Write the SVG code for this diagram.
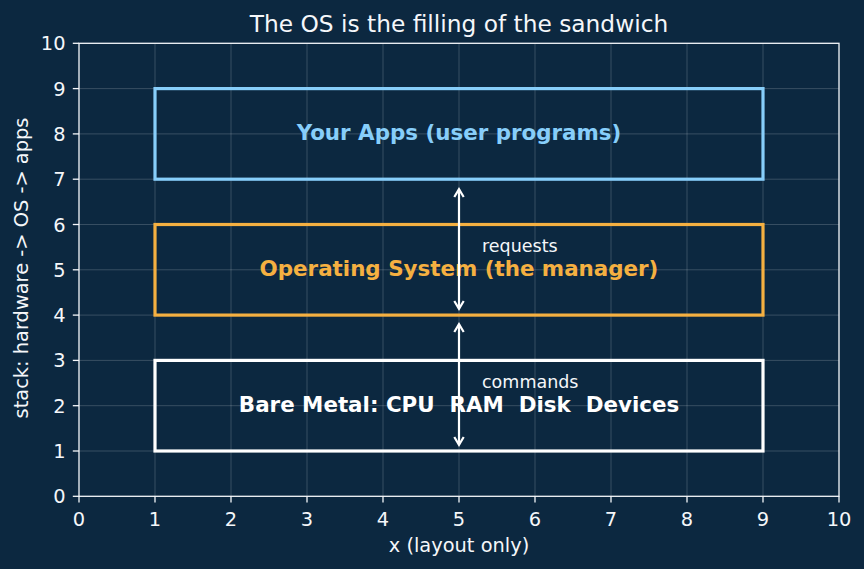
<svg xmlns="http://www.w3.org/2000/svg" width="864" height="569" viewBox="0 0 864 569">
  <defs>
    <style>
      text { font-family: "DejaVu Sans", "Liberation Sans", sans-serif; fill: #f5f7fa; }
      .tick { font-size: 19.4px; }
      .ytick { text-anchor: end; }
      .xtick { text-anchor: middle; }
      .grid line { stroke: #ffffff; stroke-opacity: 0.18; stroke-width: 1; }
      .tickmark line { stroke: #f5f7fa; stroke-width: 1.3; }
      .box { fill: none; stroke-width: 3.2; }
      .boxlabel { font-size: 21.4px; font-weight: bold; text-anchor: middle; white-space: pre; }
      .note { font-size: 17.5px; }
      .conn { stroke: #ffffff; stroke-width: 2.2; fill: none; }
      .head { stroke: #ffffff; stroke-width: 2.2; fill: none; stroke-linejoin: miter; }
    </style>
  </defs>
  <rect x="0" y="0" width="864" height="569" fill="#0c2840"/>

  <!-- grid -->
  <g class="grid">
    <line x1="155" y1="43.3" x2="155" y2="496.3"/>
    <line x1="231" y1="43.3" x2="231" y2="496.3"/>
    <line x1="307" y1="43.3" x2="307" y2="496.3"/>
    <line x1="383" y1="43.3" x2="383" y2="496.3"/>
    <line x1="459" y1="43.3" x2="459" y2="496.3"/>
    <line x1="535" y1="43.3" x2="535" y2="496.3"/>
    <line x1="611" y1="43.3" x2="611" y2="496.3"/>
    <line x1="687" y1="43.3" x2="687" y2="496.3"/>
    <line x1="763" y1="43.3" x2="763" y2="496.3"/>
    <line x1="79" y1="451" x2="839" y2="451"/>
    <line x1="79" y1="405.7" x2="839" y2="405.7"/>
    <line x1="79" y1="360.4" x2="839" y2="360.4"/>
    <line x1="79" y1="315.1" x2="839" y2="315.1"/>
    <line x1="79" y1="269.8" x2="839" y2="269.8"/>
    <line x1="79" y1="224.5" x2="839" y2="224.5"/>
    <line x1="79" y1="179.2" x2="839" y2="179.2"/>
    <line x1="79" y1="133.9" x2="839" y2="133.9"/>
    <line x1="79" y1="88.6" x2="839" y2="88.6"/>
  </g>

  <!-- axes frame -->
  <rect x="79" y="43.3" width="760" height="453" fill="none" stroke="#f5f7fa" stroke-width="1.3"/>

  <!-- tick marks -->
  <g class="tickmark">
    <line x1="79" y1="496.3" x2="79" y2="502.5"/>
    <line x1="155" y1="496.3" x2="155" y2="502.5"/>
    <line x1="231" y1="496.3" x2="231" y2="502.5"/>
    <line x1="307" y1="496.3" x2="307" y2="502.5"/>
    <line x1="383" y1="496.3" x2="383" y2="502.5"/>
    <line x1="459" y1="496.3" x2="459" y2="502.5"/>
    <line x1="535" y1="496.3" x2="535" y2="502.5"/>
    <line x1="611" y1="496.3" x2="611" y2="502.5"/>
    <line x1="687" y1="496.3" x2="687" y2="502.5"/>
    <line x1="763" y1="496.3" x2="763" y2="502.5"/>
    <line x1="839" y1="496.3" x2="839" y2="502.5"/>
    <line x1="72.8" y1="496.3" x2="79" y2="496.3"/>
    <line x1="72.8" y1="451" x2="79" y2="451"/>
    <line x1="72.8" y1="405.7" x2="79" y2="405.7"/>
    <line x1="72.8" y1="360.4" x2="79" y2="360.4"/>
    <line x1="72.8" y1="315.1" x2="79" y2="315.1"/>
    <line x1="72.8" y1="269.8" x2="79" y2="269.8"/>
    <line x1="72.8" y1="224.5" x2="79" y2="224.5"/>
    <line x1="72.8" y1="179.2" x2="79" y2="179.2"/>
    <line x1="72.8" y1="133.9" x2="79" y2="133.9"/>
    <line x1="72.8" y1="88.6" x2="79" y2="88.6"/>
    <line x1="72.8" y1="43.3" x2="79" y2="43.3"/>
  </g>

  <!-- tick labels -->
  <g class="tick xtick">
    <text x="79" y="526">0</text>
    <text x="155" y="526">1</text>
    <text x="231" y="526">2</text>
    <text x="307" y="526">3</text>
    <text x="383" y="526">4</text>
    <text x="459" y="526">5</text>
    <text x="535" y="526">6</text>
    <text x="611" y="526">7</text>
    <text x="687" y="526">8</text>
    <text x="763" y="526">9</text>
    <text x="839" y="526">10</text>
  </g>
  <g class="tick ytick">
    <text x="65.5" y="503.3">0</text>
    <text x="65.5" y="458">1</text>
    <text x="65.5" y="412.7">2</text>
    <text x="65.5" y="367.4">3</text>
    <text x="65.5" y="322.1">4</text>
    <text x="65.5" y="276.8">5</text>
    <text x="65.5" y="231.5">6</text>
    <text x="65.5" y="186.2">7</text>
    <text x="65.5" y="140.9">8</text>
    <text x="65.5" y="95.6">9</text>
    <text x="65.5" y="50.3">10</text>
  </g>

  <!-- axis labels and title -->
  <text x="459" y="552" font-size="19.4" text-anchor="middle">x (layout only)</text>
  <text transform="translate(28,268) rotate(-90)" font-size="19.4" text-anchor="middle">stack: hardware -&gt; OS -&gt; apps</text>
  <text x="459" y="32" font-size="23.3" text-anchor="middle">The OS is the filling of the sandwich</text>

  <!-- nodes -->
  <g id="apps">
    <rect class="box" x="155" y="88.6" width="608" height="90.6" stroke="#87cefa"/>
    <text class="boxlabel" x="459" y="139.5" style="fill:#87cefa">Your Apps (user programs)</text>
  </g>
  <g id="os">
    <rect class="box" x="155" y="224.5" width="608" height="90.6" stroke="#f5b041"/>
    <text class="boxlabel" x="459" y="276" style="fill:#f5b041">Operating System (the manager)</text>
  </g>
  <g id="hardware">
    <rect class="box" x="155" y="360.4" width="608" height="90.6" stroke="#ffffff"/>
    <text class="boxlabel" x="459" y="412.3" style="fill:#ffffff" xml:space="preserve">Bare Metal: CPU  RAM  Disk  Devices</text>
  </g>

  <!-- connectors -->
  <g id="connectors">
    <line class="conn" x1="459" y1="189.5" x2="459" y2="308.5"/>
    <polyline class="head" points="454.3,197 459,189.2 463.7,197"/>
    <polyline class="head" points="454.3,301 459,308.8 463.7,301"/>
    <text class="note" x="482" y="251.5">requests</text>

    <line class="conn" x1="459" y1="324.5" x2="459" y2="444.5"/>
    <polyline class="head" points="454.3,332 459,324.2 463.7,332"/>
    <polyline class="head" points="454.3,437 459,444.8 463.7,437"/>
    <text class="note" x="482" y="388.3">commands</text>
  </g>
</svg>
